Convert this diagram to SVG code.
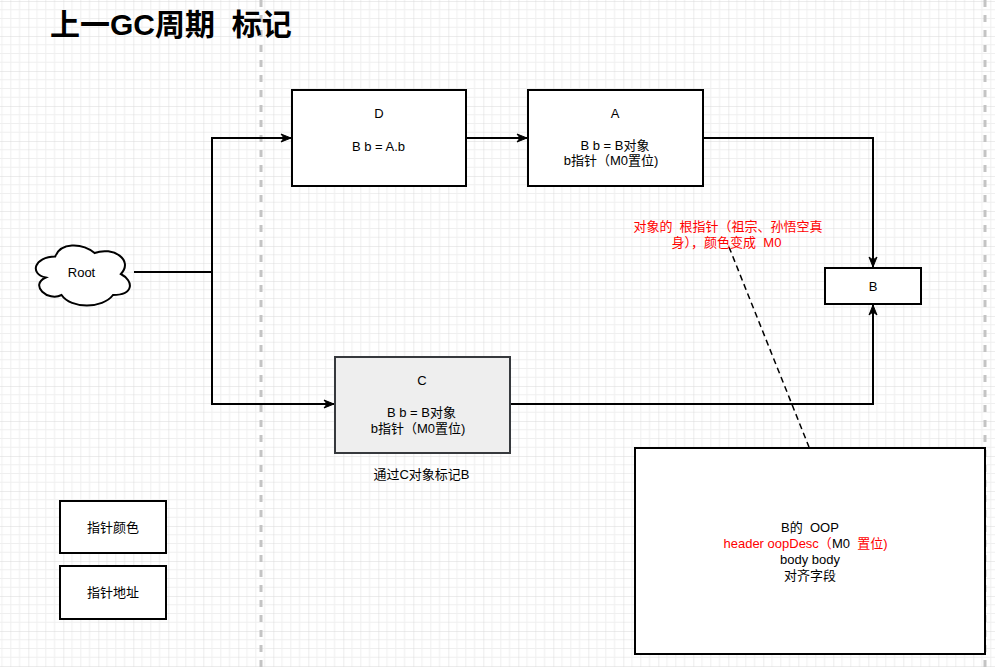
<svg xmlns="http://www.w3.org/2000/svg" width="995" height="667" viewBox="0 0 995 667" xml:space="preserve">
<style>
  text { font-family: "Liberation Sans", "Noto Sans CJK SC", sans-serif; font-size: 13px; fill: #000; white-space: pre; }
  .c { text-anchor: middle; }
  .red { fill: #ff0000; }
  .title { font-size: 30px; font-weight: bold; }
  .box { fill: #fff; stroke: #000; stroke-width: 2; }
  .gray { fill: #eeeeee; stroke: #36393d; stroke-width: 2; }
  .edge { fill: none; stroke: #000; stroke-width: 2; }
  .sep { stroke: #c4c4c4; stroke-width: 3; stroke-dasharray: 7 8; }
</style>
<defs>
  <pattern id="grid" patternUnits="userSpaceOnUse" x="28.3" y="1" width="35" height="35">
    <g stroke="#efefef" stroke-width="1">
      <line x1="8.75" y1="0" x2="8.75" y2="35"/>
      <line x1="17.5" y1="0" x2="17.5" y2="35"/>
      <line x1="26.25" y1="0" x2="26.25" y2="35"/>
      <line x1="0" y1="8.75" x2="35" y2="8.75"/>
      <line x1="0" y1="17.5" x2="35" y2="17.5"/>
      <line x1="0" y1="26.25" x2="35" y2="26.25"/>
    </g>
    <g stroke="#d9d9d9" stroke-width="1">
      <line x1="0" y1="0" x2="0" y2="35"/>
      <line x1="0" y1="0" x2="35" y2="0"/>
    </g>
  </pattern>
  <marker id="arr" markerUnits="userSpaceOnUse" markerWidth="12" markerHeight="10" viewBox="0 0 12 10" refX="11" refY="5" orient="auto">
    <path d="M1,1 L11,5 L1,9 L4,5 Z" fill="#000" stroke="#000" stroke-width="1"/>
  </marker>
</defs>
<rect x="0" y="0" width="995" height="667" fill="#fff"/>
<rect x="0" y="0" width="995" height="667" fill="url(#grid)"/>
<line class="sep" x1="261" y1="0" x2="261" y2="667"/>
<line class="sep" x1="985" y1="0" x2="985" y2="667"/>

<text class="title" x="50" y="35">上一GC周期  标记</text>

<g id="connectors">
  <path class="edge" d="M134,272 H212"/>
  <path class="edge" d="M212,272 V138 H291" marker-end="url(#arr)"/>
  <path class="edge" d="M212,272 V404 H334" marker-end="url(#arr)"/>
  <path class="edge" d="M466,138 H527" marker-end="url(#arr)"/>
  <path class="edge" d="M703,138 H873 V267" marker-end="url(#arr)"/>
  <path class="edge" d="M510,404 H873 V305" marker-end="url(#arr)"/>
  <path d="M729,247 L809,447" fill="none" stroke="#000" stroke-width="1.5" stroke-dasharray="6 4"/>
</g>

<g id="root">
  <path class="box" d="M55.25,256.5 C34.25,256.5 29,274 45.8,277.5 C29,285.2 47.9,302 61.55,295 C71,309 102.5,309 113,295 C134,295 134,281 120.875,274 C134,260 113,246 94.625,253 C81.5,242.5 60.5,242.5 55.25,256.5 Z"/>
  <text class="c" x="81.5" y="276.5">Root</text>
</g>

<g id="node-d">
  <rect class="box" x="292" y="90" width="174" height="96"/>
  <text class="c" x="379" y="117.5">D</text>
  <text class="c" x="378.5" y="150.5">B b = A.b</text>
</g>

<g id="node-a">
  <rect class="box" x="528" y="90" width="175" height="96"/>
  <text class="c" x="615" y="117.5">A</text>
  <text class="c" x="615" y="149.5">B b = B对象</text>
  <text class="c" x="611" y="165">b指针（M0置位)</text>
</g>

<g id="node-b">
  <rect class="box" x="825" y="268" width="96" height="36"/>
  <text class="c" x="873" y="290.5">B</text>
</g>

<g id="node-c">
  <rect class="gray" x="335" y="357" width="175" height="96"/>
  <text class="c" x="422" y="384.5">C</text>
  <text class="c" x="421.5" y="416.5">B b = B对象</text>
  <text class="c" x="418" y="433">b指针（M0置位)</text>
</g>

<g id="label-c">
  <text class="c" x="421.5" y="479">通过C对象标记B</text>
</g>

<g id="note-red">
  <text class="c red" x="728" y="230.5">对象的  根指针（祖宗、孙悟空真</text>
  <text class="c red" x="726.5" y="247">身），颜色变成  M0</text>
</g>

<g id="node-oop">
  <rect class="box" x="635" y="448" width="350" height="206"/>
  <text class="c" x="810" y="532">B的  OOP</text>
  <text class="c" x="805.5" y="548"><tspan class="red">header oopDesc（</tspan>M0  <tspan class="red">置位)</tspan></text>
  <text class="c" x="810" y="564">body body</text>
  <text class="c" x="810" y="580">对齐字段</text>
</g>

<g id="legend-color">
  <rect class="box" x="60" y="501" width="106" height="52"/>
  <text class="c" x="113" y="531.5">指针颜色</text>
</g>

<g id="legend-addr">
  <rect class="box" x="60" y="566" width="106" height="53"/>
  <text class="c" x="113" y="597">指针地址</text>
</g>
</svg>
